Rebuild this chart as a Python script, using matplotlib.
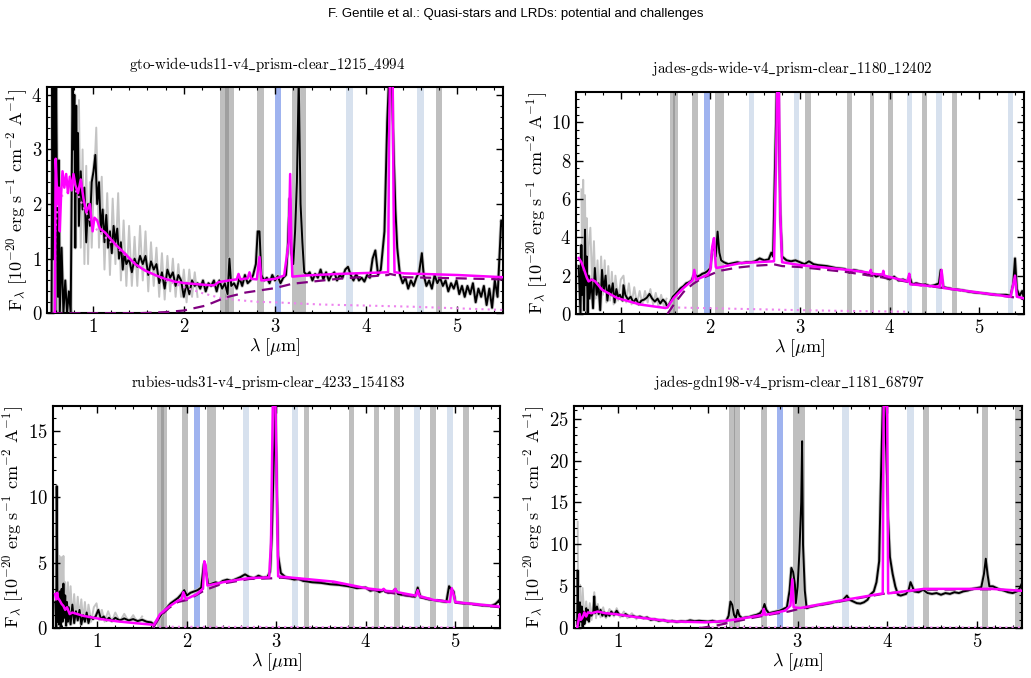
import numpy as np
import matplotlib
matplotlib.use("Agg")
from matplotlib import pyplot as plt
from matplotlib.ticker import AutoMinorLocator, MultipleLocator

plt.rcParams['font.family'] = 'cmr10'
plt.rcParams['mathtext.fontset'] = 'cm'
plt.rcParams['axes.formatter.use_mathtext'] = True
plt.rcParams['axes.unicode_minus'] = False

# ---------------- panel 1 : gto-wide-uds11 ----------------
p1_name = "gto-wide-uds11-v4_prism-clear_1215_4994"
p1_lam = [0.55, 0.56, 0.57, 0.58, 0.59, 0.60, 0.61, 0.62, 0.63, 0.64, 0.66, 0.68, 0.70, 0.72, 0.74,
          0.76, 0.78, 0.79, 0.80, 0.81, 0.82, 0.83, 0.84, 0.85, 0.87, 0.89, 0.91, 0.93, 0.95, 0.97,
          0.99, 1.01, 1.03, 1.05, 1.07, 1.09, 1.11, 1.13, 1.15, 1.17, 1.19, 1.21, 1.23, 1.25, 1.27,
          1.29, 1.31, 1.33, 1.35, 1.37, 1.40, 1.43, 1.46, 1.49, 1.52, 1.55, 1.58, 1.61, 1.64, 1.67,
          1.70, 1.73, 1.76, 1.79, 1.82, 1.85, 1.88, 1.91, 1.94, 1.97, 2.00, 2.03, 2.06, 2.09, 2.12,
          2.15, 2.18, 2.21, 2.24, 2.27, 2.30, 2.33, 2.36, 2.39, 2.42, 2.45, 2.48, 2.50, 2.52, 2.55,
          2.58, 2.61, 2.64, 2.67, 2.70, 2.73, 2.76, 2.79, 2.81, 2.83, 2.85, 2.88, 2.91, 2.94, 2.97,
          3.00, 3.03, 3.06, 3.09, 3.12, 3.14, 3.16, 3.18, 3.20, 3.22, 3.24, 3.26, 3.28, 3.30, 3.32,
          3.35, 3.38, 3.41, 3.44, 3.47, 3.50, 3.53, 3.56, 3.59, 3.62, 3.65, 3.68, 3.71, 3.74, 3.77,
          3.80, 3.83, 3.86, 3.89, 3.92, 3.95, 3.98, 4.01, 4.04, 4.07, 4.10, 4.13, 4.16, 4.20, 4.23,
          4.25, 4.28, 4.30, 4.32, 4.34, 4.37, 4.40, 4.43, 4.46, 4.49, 4.52, 4.55, 4.58, 4.61, 4.63,
          4.66, 4.69, 4.72, 4.75, 4.78, 4.81, 4.84, 4.87, 4.90, 4.93, 4.96, 4.99, 5.02, 5.05, 5.08,
          5.11, 5.14, 5.17, 5.20, 5.23, 5.26, 5.29, 5.32, 5.35, 5.38, 5.41, 5.44, 5.46, 5.48, 5.50]
p1_flux = [0.0, 4.3, 1.0, 4.3, 0.0, 4.3, 2.0, 0.3, 2.8, 0.0, 1.2, 0.0, 0.6, 0.0, 0.4,
           0.0, 4.3, 3.0, 4.0, 1.2, 3.8, 2.2, 3.3, 1.6, 2.6, 1.9, 2.3, 1.3, 2.0, 1.6,
           2.4, 2.6, 2.9, 2.0, 2.4, 1.5, 1.9, 1.3, 1.8, 1.2, 1.5, 1.1, 1.6, 1.3, 1.55,
           1.0, 1.3, 0.8, 1.1, 0.9, 1.0, 0.75, 1.0, 0.85, 1.05, 0.9, 1.05, 0.7, 0.95, 0.8,
           0.9, 0.55, 0.75, 0.45, 0.8, 0.65, 0.75, 0.5, 0.7, 0.6, 0.3, 0.55, 0.35, 0.6, 0.5,
           0.55, 0.45, 0.6, 0.4, 0.55, 0.5, 0.6, 0.4, 0.6, 0.45, 0.55, 0.35, 1.0, 0.5, 0.55,
           0.45, 0.65, 0.5, 0.7, 0.55, 0.6, 0.7, 0.9, 1.5, 1.5, 0.7, 0.6, 0.65, 0.55, 0.7,
           0.6, 0.68, 0.55, 0.65, 0.7, 1.2, 2.1, 1.1, 0.9, 1.5, 2.4, 4.3, 2.0, 1.3, 0.75,
           0.7, 0.75, 0.6, 0.72, 0.65, 0.8, 0.62, 0.75, 0.6, 0.7, 0.75, 0.6, 0.7, 0.65, 0.8,
           0.85, 0.7, 0.6, 0.72, 0.6, 0.65, 0.58, 0.7, 0.65, 1.0, 1.15, 0.7, 0.8, 1.5, 3.5,
           4.3, 4.3, 3.0, 1.9, 1.2, 0.7, 0.55, 0.65, 0.45, 0.6, 0.5, 0.65, 0.75, 1.1, 0.7,
           0.5, 0.6, 0.45, 0.7, 0.55, 0.65, 0.5, 0.6, 0.4, 0.55, 0.45, 0.6, 0.35, 0.5, 0.3,
           0.5, 0.35, 0.55, 0.2, 0.45, 0.3, 0.5, 0.15, 0.45, 0.1, 0.6, 0.3, 1.0, 1.7, 1.6]
p1_grey_lam = [0.85, 0.87, 0.89, 0.91, 0.93, 0.95, 0.97, 0.99, 1.01, 1.04, 1.07, 1.10, 1.13, 1.16,
               1.19, 1.22, 1.25, 1.28, 1.31, 1.34, 1.37, 1.40, 1.43, 1.46, 1.49, 1.52, 1.55, 1.58,
               1.61, 1.64, 1.67, 1.70, 1.73, 1.76, 1.79, 1.82, 1.85, 1.88, 1.91, 1.94, 1.97, 2.00,
               2.03, 2.06, 2.09, 2.12, 2.15]
p1_grey_flux = [3.9, 1.2, 3.0, 0.9, 2.7, 0.9, 2.4, 1.2, 2.2, 3.4, 1.2, 2.5, 0.8, 2.2,
                0.7, 2.1, 0.9, 2.2, 0.6, 1.7, 0.5, 1.6, 0.5, 1.4, 0.5, 1.6, 0.6, 1.5,
                0.4, 1.3, 0.5, 1.2, 0.3, 1.1, 0.25, 1.05, 0.4, 1.0, 0.3, 0.9, 0.3, 0.8,
                0.2, 0.8, 0.3, 0.75, 0.3]
p1_model_lam = [0.585, 0.595, 0.615, 0.63, 0.64, 0.655, 0.67, 0.69, 0.71, 0.73, 0.75, 0.77, 0.79,
                0.81, 0.84, 0.87, 0.90, 0.93, 0.97, 1.0, 1.02, 1.05, 1.08, 1.135, 1.245, 1.356,
                1.466, 1.576, 1.70, 1.795, 1.90, 2.016, 2.236, 2.33, 2.38, 2.53, 2.58, 2.60,
                2.62, 2.70, 2.72, 2.74, 2.80, 2.83, 2.85, 3.0, 3.10, 3.15, 3.166, 3.18, 3.19,
                3.32, 3.69, 4.24, 4.25, 4.26, 4.29, 4.30, 4.31, 4.42, 5.0, 5.5]
p1_model = [0.0, 2.83, 2.0, 2.3, 1.5, 2.2, 2.6, 2.3, 2.55, 2.2, 2.5, 2.25, 2.55,
            2.35, 2.2, 2.45, 2.1, 1.85, 2.0, 1.5, 1.75, 1.7, 1.55, 1.48, 1.27, 1.09,
            0.90, 0.78, 0.69, 0.63, 0.58, 0.55, 0.52, 0.51, 0.57, 0.61, 0.62, 0.72,
            0.62, 0.64, 0.75, 0.63, 0.62, 1.03, 0.6, 0.63, 0.69, 1.3, 2.55, 1.2, 0.67,
            0.69, 0.72, 0.75, 3.0, 4.3, 4.3, 2.0, 0.75, 0.73, 0.70, 0.66]
p1_dash_lam = [0.55, 1.0, 1.5, 1.8, 2.0, 2.24, 2.46, 2.68, 3.0, 3.19, 3.69, 4.24, 4.26, 4.42, 5.0, 5.5]
p1_dash = [0.0, 0.0, 0.0, 0.02, 0.05, 0.14, 0.29, 0.38, 0.46, 0.54, 0.63, 0.70, 0.72, 0.66, 0.64, 0.62]
p1_dot_lam = [0.585, 0.59, 0.62, 0.8, 1.0, 1.2, 1.4, 1.6, 1.8, 2.0, 2.2, 2.4, 2.6, 2.8, 3.0,
              3.5, 4.0, 4.5, 5.0, 5.5]
p1_dot = [0.0, 1.5, 2.1, 2.3, 1.6, 1.3, 1.0, 0.76, 0.6, 0.48, 0.37, 0.28, 0.24, 0.21, 0.2,
          0.16, 0.14, 0.12, 0.09, 0.06]
p1_grey_bands = [(0.55, 0.62), (2.40, 2.50), (2.45, 2.55), (2.80, 2.88), (3.19, 3.34), (4.76, 4.83)]
p1_light_bands = [(3.78, 3.85), (4.56, 4.63)]
p1_blue_bands = [(3.00, 3.07)]

# ---------------- panel 2 : jades-gds-wide ----------------
p2_name = "jades-gds-wide-v4_prism-clear_1180_12402"
p2_lam = [0.53, 0.55, 0.56, 0.57, 0.58, 0.59, 0.60, 0.61, 0.62, 0.63, 0.64, 0.65, 0.67, 0.69, 0.71,
          0.73, 0.75, 0.77, 0.79, 0.81, 0.83, 0.85, 0.87, 0.89, 0.91, 0.93, 0.95, 0.97, 0.99, 1.02,
          1.03, 1.05, 1.08, 1.11, 1.14, 1.17, 1.20, 1.23, 1.26, 1.29, 1.32, 1.35, 1.38, 1.41, 1.44,
          1.47, 1.50, 1.52, 1.55, 1.58, 1.61, 1.64, 1.67, 1.70, 1.73, 1.76, 1.79, 1.82, 1.85, 1.88,
          1.91, 1.94, 1.97, 2.00, 2.02, 2.04, 2.06, 2.08, 2.10, 2.12, 2.15, 2.20, 2.25, 2.30, 2.35,
          2.40, 2.45, 2.50, 2.55, 2.60, 2.65, 2.68, 2.70, 2.72, 2.74, 2.76, 2.78, 2.80, 2.85, 2.90,
          2.95, 3.00, 3.05, 3.10, 3.15, 3.20, 3.30, 3.40, 3.50, 3.55, 3.60, 3.70, 3.75, 3.80, 3.85,
          3.90, 3.95, 4.00, 4.05, 4.10, 4.15, 4.20, 4.22, 4.25, 4.30, 4.35, 4.40, 4.45, 4.50, 4.55,
          4.57, 4.60, 4.65, 4.70, 4.80, 4.90, 5.00, 5.10, 5.20, 5.30, 5.35, 5.38, 5.40, 5.42, 5.45,
          5.48, 5.50]
p2_flux = [2.5, 0.0, 3.6, 1.0, 2.2, 0.2, 4.4, 1.5, 3.0, 0.0, 2.0, 0.8, 1.8, 0.3, 2.4,
           1.0, 1.6, 0.2, 2.3, 1.2, 2.0, 0.7, 1.5, 1.0, 1.6, 0.6, 1.3, 0.9, 1.0, 0.7,
           1.5, 1.0, 0.75, 0.9, 0.6, 0.8, 0.5, 0.7, 0.75, 0.85, 1.05, 0.8, 0.65, 0.8, 0.55,
           0.75, 0.6, 0.35, 0.6, 0.9, 1.05, 1.2, 1.35, 1.45, 1.6, 1.65, 1.75, 2.1, 1.95, 2.0,
           2.1, 2.15, 2.25, 2.4, 3.3, 3.6, 3.0, 4.3, 3.2, 2.8, 2.7, 2.6, 2.65, 2.7, 2.65,
           2.7, 2.7, 2.75, 2.9, 2.8, 2.85, 3.2, 3.0, 7.5, 11.6, 11.6, 5.2, 3.0, 2.8, 2.75,
           2.8, 2.7, 2.6, 2.75, 2.6, 2.55, 2.5, 2.4, 2.35, 2.15, 2.3, 2.2, 2.05, 2.15, 1.95,
           2.05, 1.9, 1.8, 1.95, 1.75, 1.8, 1.7, 2.0, 1.55, 1.6, 1.5, 1.55, 1.45, 1.5, 1.6,
           2.3, 1.4, 1.35, 1.3, 1.25, 1.15, 1.1, 1.05, 1.0, 1.0, 0.95, 1.6, 2.9, 1.3, 0.95,
           1.2, 0.8]
p2_grey_lam = [0.56, 0.57, 0.58, 0.59, 0.60, 0.61, 0.62, 0.63, 0.64, 0.66, 0.68, 0.70, 0.72, 0.74,
               0.76, 0.78, 0.80, 0.82, 0.84, 0.86, 0.88, 0.90, 0.92, 0.94, 0.97, 1.00, 1.03, 1.06,
               1.09, 1.12, 1.15, 1.18, 1.21, 1.24, 1.27, 1.30, 1.33, 1.36, 1.39, 1.42, 1.45, 1.48,
               1.51]
p2_grey_flux = [6.5, 1.5, 7.0, 1.0, 6.2, 2.0, 5.0, 0.5, 3.5, 4.5, 1.5, 3.8, 0.8, 2.8,
                0.5, 3.0, 1.0, 2.8, 0.6, 2.5, 0.7, 2.2, 0.5, 2.0, 0.7, 1.8, 2.0, 0.6,
                1.6, 0.5, 1.4, 0.5, 1.2, 0.5, 1.2, 0.6, 1.3, 0.5, 1.1, 0.4, 1.0, 0.4,
                0.8]
p2_model_lam = [0.53, 0.56, 0.584, 0.62, 0.64, 0.677, 0.714, 0.79, 0.96, 1.22, 1.50, 1.52, 1.59,
                1.70, 1.76, 1.80, 1.82, 1.84, 1.97, 2.0, 2.02, 2.04, 2.06, 2.07, 2.34, 2.71,
                2.73, 2.745, 2.765, 2.78, 2.80, 3.0, 3.54, 3.78, 3.79, 3.80, 3.92, 3.93, 3.94,
                4.20, 4.22, 4.23, 4.5, 4.56, 4.58, 4.60, 5.35, 5.40, 5.42, 5.5]
p2_model = [2.92, 2.7, 2.4, 1.9, 1.7, 1.8, 1.7, 1.27, 0.83, 0.49, 0.31, 0.35, 0.83,
            1.36, 1.6, 1.75, 2.3, 1.78, 2.05, 2.3, 3.5, 3.96, 2.45, 2.4, 2.66, 2.75,
            7.4, 11.6, 11.6, 5.18, 2.7, 2.55, 2.3, 2.15, 2.3, 2.1, 2.05, 2.25, 2.0,
            1.7, 2.1, 1.55, 1.44, 1.42, 2.3, 1.36, 0.9, 2.0, 0.9, 0.82]
p2_dash_lam = [1.52, 1.6, 1.7, 1.8, 1.9, 2.0, 2.1, 2.3, 2.5, 2.72, 2.8, 3.0, 3.5, 4.0, 4.5, 5.0, 5.5]
p2_dash = [0.0, 0.55, 1.15, 1.55, 1.85, 2.05, 2.25, 2.42, 2.52, 2.58, 2.5, 2.45, 2.2, 1.85, 1.42, 1.1, 0.8]
p2_dot_lam = [1.5, 2.0, 2.5, 3.0, 3.5, 4.0, 4.2]
p2_dot = [0.35, 0.3, 0.25, 0.2, 0.16, 0.13, 0.12]
p2_grey_bands = [(1.55, 1.60), (1.58, 1.64), (1.79, 1.86), (2.05, 2.15), (3.06, 3.12), (3.52, 3.58),
                 (3.78, 3.83), (3.98, 4.04), (4.36, 4.42), (4.70, 4.75)]
p2_light_bands = [(2.43, 2.49), (2.93, 2.99), (4.19, 4.25), (4.52, 4.58), (5.32, 5.38)]
p2_blue_bands = [(1.93, 1.99)]

# ---------------- panel 3 : rubies-uds31 ----------------
p3_name = "rubies-uds31-v4_prism-clear_4233_154183"
p3_lam = [0.53, 0.54, 0.545, 0.55, 0.555, 0.56, 0.57, 0.58, 0.59, 0.60, 0.61, 0.62, 0.63, 0.64,
          0.65, 0.66, 0.67, 0.68, 0.70, 0.72, 0.74, 0.76, 0.78, 0.80, 0.82, 0.84, 0.86, 0.88,
          0.90, 0.92, 0.95, 0.98, 1.01, 1.04, 1.07, 1.10, 1.13, 1.16, 1.20, 1.25, 1.30, 1.35,
          1.40, 1.45, 1.50, 1.55, 1.60, 1.63, 1.66, 1.70, 1.74, 1.78, 1.82, 1.86, 1.90, 1.94,
          1.97, 2.00, 2.04, 2.08, 2.12, 2.16, 2.19, 2.21, 2.24, 2.28, 2.32, 2.36, 2.40, 2.45,
          2.50, 2.55, 2.60, 2.65, 2.70, 2.75, 2.80, 2.85, 2.90, 2.93, 2.95, 2.97, 2.99, 3.00,
          3.02, 3.05, 3.10, 3.15, 3.20, 3.25, 3.30, 3.40, 3.50, 3.60, 3.70, 3.80, 3.90, 4.00,
          4.05, 4.10, 4.15, 4.20, 4.25, 4.30, 4.33, 4.36, 4.40, 4.45, 4.50, 4.55, 4.58, 4.61,
          4.65, 4.70, 4.75, 4.80, 4.85, 4.90, 4.93, 4.95, 4.98, 5.00, 5.05, 5.10, 5.20, 5.30,
          5.40, 5.45, 5.50]
p3_flux = [2.0, 0.0, 10.8, 6.0, 0.5, 2.5, 0.3, 2.8, 0.0, 3.0, 0.5, 3.4, 0.8, 2.5,
           0.2, 2.0, 0.5, 1.6, 0.3, 1.8, 0.4, 1.3, 0.6, 1.4, 0.3, 1.0, 0.5, 1.2,
           0.4, 0.9, 0.7, 0.9, 1.4, 0.7, 0.9, 0.6, 0.8, 0.55, 0.8, 0.6, 0.75, 0.6,
           0.7, 0.55, 0.65, 0.5, 0.45, 0.3, 0.5, 0.9, 1.3, 1.6, 1.9, 2.1, 2.3, 2.6,
           2.9, 2.5, 2.7, 2.8, 2.9, 3.1, 4.9, 4.5, 3.3, 3.4, 3.5, 3.4, 3.6, 3.7,
           3.6, 3.75, 3.9, 4.1, 3.9, 3.8, 4.0, 3.85, 3.9, 4.3, 7.2, 12.5, 16.9, 12.7,
           5.5, 4.2, 3.9, 3.8, 3.7, 3.75, 3.6, 3.5, 3.45, 3.35, 3.3, 3.2, 3.05, 3.1,
           2.85, 2.95, 2.75, 2.9, 2.7, 2.75, 3.0, 2.6, 2.55, 2.5, 2.45, 2.4, 3.1, 2.4,
           2.3, 2.2, 2.15, 2.1, 2.05, 2.0, 3.2, 3.0, 2.8, 2.0, 1.95, 1.9, 1.85, 1.75,
           1.7, 1.85, 2.2]
p3_grey_lam = [0.56, 0.57, 0.575, 0.59, 0.60, 0.61, 0.62, 0.63, 0.64, 0.66, 0.67, 0.69, 0.70, 0.72,
               0.74, 0.76, 0.78, 0.80, 0.82, 0.84, 0.86, 0.88, 0.90, 0.93, 0.96, 0.99, 1.02, 1.05,
               1.08, 1.12, 1.16, 1.20, 1.25, 1.30, 1.35, 1.40, 1.45, 1.50]
p3_grey_flux = [5.0, 1.0, 5.5, 1.5, 5.4, 2.5, 5.5, 1.0, 3.5, 1.0, 3.5, 0.8, 3.2, 0.6,
                2.6, 0.7, 2.4, 0.8, 2.2, 0.6, 2.0, 0.5, 1.8, 0.5, 1.6, 1.9, 0.6, 1.4,
                0.5, 1.3, 0.5, 1.2, 0.5, 1.1, 0.5, 1.0, 0.4, 0.9]
p3_model_lam = [0.527, 0.54, 0.55, 0.56, 0.58, 0.60, 0.62, 0.64, 0.66, 0.69, 0.72, 0.84, 1.03, 1.22,
                1.44, 1.61, 1.63, 1.70, 1.81, 1.90, 1.94, 1.96, 1.99, 2.11, 2.18, 2.195, 2.21,
                2.23, 2.4, 2.55, 2.70, 2.92, 2.94, 2.96, 2.99, 3.00, 3.02, 3.045, 3.64, 4.01,
                4.18, 4.2, 4.22, 4.31, 4.33, 4.35, 4.56, 4.58, 4.60, 4.76, 4.94, 4.96, 4.98,
                5.0, 5.13, 5.5]
p3_model = [2.6, 2.2, 2.7, 2.3, 2.1, 1.85, 1.7, 1.4, 1.6, 1.08, 1.2, 0.95, 0.71, 0.53,
            0.38, 0.28, 0.25, 1.08, 1.7, 2.1, 2.2, 2.75, 2.2, 2.6, 3.0, 5.1, 4.8,
            3.25, 3.5, 3.67, 3.82, 3.87, 6.5, 16.9, 16.9, 12.7, 3.95, 3.93, 3.55, 3.04,
            2.9, 3.0, 2.85, 2.8, 3.0, 2.75, 2.48, 2.9, 2.45, 2.15, 2.0, 3.05, 2.6,
            2.0, 1.9, 1.65]
p3_dash_lam = [1.62, 1.70, 1.8, 1.9, 2.0, 2.1, 2.2, 2.4, 2.7, 2.95, 3.05, 3.64, 4.0, 4.5, 5.0, 5.5]
p3_dash = [0.0, 0.9, 1.55, 2.0, 2.15, 2.5, 2.9, 3.4, 3.75, 3.8, 3.85, 3.5, 3.0, 2.45, 1.95, 1.6]
p3_dot_lam = [1.62, 3.0, 4.0, 5.0]
p3_dot = [0.12, 0.1, 0.08, 0.07]
p3_grey_bands = [(1.67, 1.74), (1.71, 1.78), (1.95, 2.01), (2.22, 2.33), (3.31, 3.37), (3.81, 3.87),
                 (4.09, 4.15), (4.32, 4.38), (4.72, 4.78), (5.09, 5.15)]
p3_light_bands = [(2.63, 2.69), (3.18, 3.24), (4.54, 4.60), (4.91, 4.97)]
p3_blue_bands = [(2.085, 2.15)]

# ---------------- panel 4 : jades-gdn198 ----------------
p4_name = "jades-gdn198-v4_prism-clear_1181_68797"
p4_lam = [0.54, 0.545, 0.55, 0.56, 0.57, 0.58, 0.59, 0.60, 0.61, 0.62, 0.63, 0.64, 0.65, 0.66,
          0.67, 0.68, 0.70, 0.72, 0.73, 0.74, 0.76, 0.78, 0.80, 0.82, 0.84, 0.86, 0.88, 0.90,
          0.92, 0.95, 0.98, 1.01, 1.05, 1.08, 1.12, 1.16, 1.20, 1.24, 1.28, 1.32, 1.36, 1.40,
          1.45, 1.50, 1.55, 1.60, 1.65, 1.70, 1.75, 1.80, 1.85, 1.90, 1.95, 2.00, 2.05, 2.10,
          2.15, 2.20, 2.23, 2.25, 2.27, 2.29, 2.31, 2.33, 2.35, 2.38, 2.42, 2.46, 2.50, 2.54,
          2.58, 2.61, 2.63, 2.65, 2.68, 2.72, 2.76, 2.80, 2.84, 2.88, 2.91, 2.93, 2.95, 2.97,
          2.98, 3.00, 3.02, 3.04, 3.05, 3.06, 3.08, 3.10, 3.15, 3.20, 3.30, 3.40, 3.50, 3.55,
          3.58, 3.62, 3.66, 3.70, 3.74, 3.78, 3.81, 3.85, 3.88, 3.91, 3.93, 3.95, 3.97, 3.99,
          4.01, 4.03, 4.06, 4.09, 4.12, 4.15, 4.18, 4.21, 4.24, 4.26, 4.28, 4.30, 4.35, 4.40,
          4.45, 4.50, 4.55, 4.60, 4.65, 4.70, 4.75, 4.80, 4.85, 4.90, 4.95, 5.00, 5.05, 5.08,
          5.10, 5.12, 5.14, 5.18, 5.22, 5.26, 5.30, 5.35, 5.40, 5.45, 5.48, 5.50]
p4_flux = [0.5, 6.9, 2.0, 0.3, 3.1, 0.8, 2.6, 0.2, 2.0, 0.5, 1.2, 2.4, 1.0, 2.2,
           0.8, 1.6, 1.5, 2.0, 3.8, 1.8, 2.6, 1.7, 2.2, 1.5, 1.9, 1.4, 1.8, 1.5,
           2.0, 1.6, 2.1, 1.6, 1.5, 1.7, 1.4, 1.5, 1.3, 1.4, 1.2, 1.3, 1.0, 1.1,
           0.9, 1.0, 0.8, 0.9, 0.75, 0.85, 0.8, 0.95, 0.85, 0.9, 0.85, 0.8, 0.9, 0.75,
           0.85, 0.8, 1.5, 3.2, 2.8, 1.6, 1.2, 2.2, 1.5, 1.2, 1.3, 1.35, 1.5, 1.6,
           1.8, 2.2, 2.9, 2.2, 1.8, 1.9, 2.0, 2.1, 2.3, 2.5, 4.5, 7.2, 6.7, 5.2,
           3.0, 5.0, 9.2, 15.0, 22.3, 10.0, 4.5, 2.4, 2.6, 2.7, 2.9, 3.1, 3.3, 3.9,
           3.4, 3.2, 3.0, 2.95, 3.1, 3.4, 4.0, 4.4, 5.5, 8.0, 18.0, 26.5, 26.5, 21.0,
           13.0, 8.5, 6.5, 5.0, 4.0, 3.9, 4.0, 4.1, 4.6, 5.5, 5.0, 4.4, 4.3, 4.6,
           4.2, 4.1, 4.2, 4.0, 4.2, 4.1, 4.3, 4.2, 4.4, 4.5, 4.7, 4.8, 4.9, 6.5,
           8.3, 6.4, 5.0, 5.0, 4.8, 4.6, 4.5, 4.3, 4.2, 4.4, 4.8, 5.3]
p4_grey_lam = [0.545, 0.55, 0.56, 0.57, 0.58, 0.60, 0.62, 0.64, 0.66, 0.68, 0.70, 0.73, 0.75, 0.77,
               0.80, 0.83, 0.86, 0.90, 0.95, 0.98, 1.02, 1.06, 1.10, 1.15, 1.20]
p4_grey_flux = [12.7, 2.0, 0.3, 5.2, 0.5, 4.8, 1.0, 3.2, 1.2, 3.0, 1.0, 4.3, 1.2, 2.9,
                1.3, 2.5, 1.2, 2.3, 1.4, 2.4, 1.3, 2.0, 1.2, 1.8, 1.1]
p4_model_lam = [0.54, 0.567, 0.58, 0.6, 0.62, 0.64, 0.66, 0.70, 0.77, 0.85, 0.96, 1.22, 1.59, 1.97,
                2.15, 2.34, 2.56, 2.61, 2.62, 2.64, 2.86, 2.92, 2.94, 2.955, 3.03, 3.48, 3.95,
                3.96, 4.0, 4.01, 4.41, 5.16, 5.5]
p4_model = [0.1, 1.7, 1.0, 1.3, 1.9, 1.4, 1.9, 1.8, 2.0, 1.8, 1.7, 1.3, 0.83, 0.71,
            0.83, 1.1, 1.5, 1.6, 2.3, 1.6, 2.1, 2.7, 5.85, 2.5, 2.42, 3.3, 4.16,
            26.5, 26.5, 4.16, 4.7, 4.7, 4.48]
p4_dash_lam = [1.9, 2.1, 2.3, 2.5, 2.7, 2.9, 3.03, 3.5, 3.95, 4.4, 5.16, 5.5]
p4_dash = [0.0, 0.35, 0.8, 1.25, 1.65, 2.0, 2.35, 3.25, 4.1, 4.6, 4.65, 4.45]
p4_dot_lam = [1.9, 3.0, 4.0, 5.5]
p4_dot = [0.12, 0.1, 0.1, 0.1]
p4_grey_bands = [(2.23, 2.30), (2.29, 2.36), (2.59, 2.66), (2.95, 3.08), (4.40, 4.47), (5.06, 5.13),
                 (5.43, 5.50)]
p4_light_bands = [(3.50, 3.57), (4.22, 4.30)]
p4_blue_bands = [(2.77, 2.84)]

panels = [
    dict(name=p1_name, lam=p1_lam, flux=p1_flux, glam=p1_grey_lam, gflux=p1_grey_flux,
         mlam=p1_model_lam, model=p1_model, dlam=p1_dash_lam, dash=p1_dash,
         olam=p1_dot_lam, dot=p1_dot, gb=p1_grey_bands, lb=p1_light_bands, bb=p1_blue_bands,
         ymax=4.15, ystep=1, rect=[0.0456, 0.538, 0.4423, 0.3342], tx=267, ty=65),
    dict(name=p2_name, lam=p2_lam, flux=p2_flux, glam=p2_grey_lam, gflux=p2_grey_flux,
         mlam=p2_model_lam, model=p2_model, dlam=p2_dash_lam, dash=p2_dash,
         olam=p2_dot_lam, dot=p2_dot, gb=p2_grey_bands, lb=p2_light_bands, bb=p2_blue_bands,
         ymax=11.6, ystep=2, rect=[0.5587, 0.5369, 0.4345, 0.3279], tx=792, ty=69),
    dict(name=p3_name, lam=p3_lam, flux=p3_flux, glam=p3_grey_lam, gflux=p3_grey_flux,
         mlam=p3_model_lam, model=p3_model, dlam=p3_dash_lam, dash=p3_dash,
         olam=p3_dot_lam, dot=p3_dot, gb=p3_grey_bands, lb=p3_light_bands, bb=p3_blue_bands,
         ymax=16.9, ystep=5, rect=[0.0511, 0.0733, 0.4339, 0.3279], tx=268, ty=383),
    dict(name=p4_name, lam=p4_lam, flux=p4_flux, glam=p4_grey_lam, gflux=p4_grey_flux,
         mlam=p4_model_lam, model=p4_model, dlam=p4_dash_lam, dash=p4_dash,
         olam=p4_dot_lam, dot=p4_dot, gb=p4_grey_bands, lb=p4_light_bands, bb=p4_blue_bands,
         ymax=26.5, ystep=5, rect=[0.5564, 0.0733, 0.4345, 0.3279], tx=790, ty=383),
]

W, H = 1031, 678
fig = plt.figure(figsize=(W / 100, H / 100), dpi=100)
fig.text(0.5, 1 - 14 / H, "F. Gentile et al.: Quasi-stars and LRDs: potential and challenges",
         ha='center', va='center', fontsize=9.5, family='Liberation Sans')

ylab = r'$\mathrm{F}_\lambda\ [10^{-20}\ \mathrm{erg\ s^{-1}\ cm^{-2}\ A^{-1}}]$'
xlab = r'$\lambda\ [\mu\mathrm{m}]$'

for p in panels:
    ax = fig.add_axes(p['rect'])
    for a, b in p['gb']:
        ax.axvspan(a, b, color='grey', alpha=0.5, lw=0, zorder=0)
    for a, b in p['lb']:
        ax.axvspan(a, b, color='lightsteelblue', alpha=0.5, lw=0, zorder=0)
    for a, b in p['bb']:
        ax.axvspan(a, b, color='royalblue', alpha=0.5, lw=0, zorder=0)

    # grey = noisier reduction behind the black spectrum
    ax.plot(p['lam'], p['flux'], color='#c4c4c4', lw=2.6, zorder=1)
    ax.plot(p['glam'], p['gflux'], color='#c4c4c4', lw=1.4, zorder=1)
    ax.plot(p['lam'], p['flux'], color='black', lw=1.4, zorder=2)
    ax.plot(p['olam'], p['dot'], color='violet', lw=1.5, ls=(0, (1, 2)), zorder=3)
    ax.plot(p['dlam'], p['dash'], color='purple', lw=1.6, ls=(0, (5, 3)), zorder=3)
    ax.plot(p['mlam'], p['model'], color='magenta', lw=1.8, zorder=4)

    ax.set_xlim(0.5, 5.5)
    ax.set_ylim(0, p['ymax'])
    ax.xaxis.set_major_locator(MultipleLocator(1))
    ax.yaxis.set_major_locator(MultipleLocator(p['ystep']))
    ax.xaxis.set_minor_locator(AutoMinorLocator(5))
    ax.yaxis.set_minor_locator(AutoMinorLocator(5))
    ax.tick_params(which='both', direction='in', top=True, right=True, labelsize=13.5)
    ax.tick_params(which='major', length=5, width=1)
    ax.tick_params(which='minor', length=2.5, width=0.8)
    for s in ax.spines.values():
        s.set_linewidth(1.5)
    ax.set_xlabel(xlab, fontsize=13, labelpad=0)
    ax.set_ylabel(ylab, fontsize=13, labelpad=1)
    fig.text(p['tx'] / W, 1 - p['ty'] / H, p['name'].replace('_', r'$\_$'),
             ha='center', va='center', fontsize=10.8)

fig.savefig('out.png', dpi=100)
